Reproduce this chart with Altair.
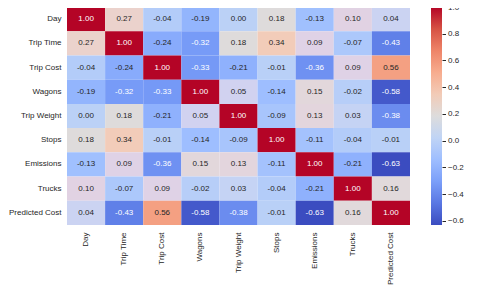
import altair as alt
import pandas as pd

variables = ["Day", "Trip Time", "Trip Cost", "Wagons", "Trip Weight",
             "Stops", "Emissions", "Trucks", "Predicted Cost"]

row_day            = [1.00, 0.27, -0.04, -0.19, 0.00, 0.18, -0.13, 0.10, 0.04]
row_trip_time      = [0.27, 1.00, -0.24, -0.32, 0.18, 0.34, 0.09, -0.07, -0.43]
row_trip_cost      = [-0.04, -0.24, 1.00, -0.33, -0.21, -0.01, -0.36, 0.09, 0.56]
row_wagons         = [-0.19, -0.32, -0.33, 1.00, 0.05, -0.14, 0.15, -0.02, -0.58]
row_trip_weight    = [0.00, 0.18, -0.21, 0.05, 1.00, -0.09, 0.13, 0.03, -0.38]
row_stops          = [0.18, 0.34, -0.01, -0.14, -0.09, 1.00, -0.11, -0.04, -0.01]
row_emissions      = [-0.13, 0.09, -0.36, 0.15, 0.13, -0.11, 1.00, -0.21, -0.63]
row_trucks         = [0.10, -0.07, 0.09, -0.02, 0.03, -0.04, -0.21, 1.00, 0.16]
row_predicted_cost = [0.04, -0.43, 0.56, -0.58, -0.38, -0.01, -0.63, 0.16, 1.00]

rows = [row_day, row_trip_time, row_trip_cost, row_wagons, row_trip_weight,
        row_stops, row_emissions, row_trucks, row_predicted_cost]

colorbar_ticks = [-0.6, -0.4, -0.2, 0.0, 0.2, 0.4, 0.6, 0.8, 1.0]
vmin, vmax = -0.63, 1.0

coolwarm = ["#3b4cc0", "#5977e3", "#7b9ff9", "#9ebeff", "#c0d4f5", "#dddcdc",
            "#f2cbb7", "#f7ac8e", "#ee8468", "#d65244", "#b40426"]

records = []
for rname, vals in zip(variables, rows):
    for cname, v in zip(variables, vals):
        records.append({"row": rname, "col": cname, "value": v, "label": f"{v:.2f}"})
df = pd.DataFrame(records)

n = len(coolwarm)
color_domain = [vmin + i * (vmax - vmin) / (n - 1) for i in range(n)]

FONT = "Liberation Sans"
TXT = "#262626"

base = alt.Chart(df).encode(
    x=alt.X("col:N", sort=variables, title=None,
            scale=alt.Scale(paddingInner=0, paddingOuter=0),
            axis=alt.Axis(labelAngle=270, domain=False, ticks=False, labelPadding=7,
                          labelFontSize=8, labelFont=FONT, labelColor=TXT)),
    y=alt.Y("row:N", sort=variables, title=None,
            scale=alt.Scale(paddingInner=0, paddingOuter=0),
            axis=alt.Axis(domain=False, ticks=False, labelPadding=6,
                          labelFontSize=8, labelFont=FONT, labelColor=TXT)),
)

rect = base.mark_rect(strokeWidth=0).encode(
    color=alt.Color("value:Q", scale=alt.Scale(domain=color_domain, range=coolwarm),
                    legend=None)
)

text = base.mark_text(fontSize=8, font=FONT).encode(
    text="label:N",
    color=alt.condition("datum.value < -0.3 || datum.value > 0.9",
                        alt.value("white"), alt.value(TXT)),
)

heat = alt.layer(rect, text).properties(width=343, height=218)

cb_df = pd.DataFrame({"lo": [vmin], "hi": [vmax]})
stops = [alt.GradientStop(color=c, offset=i / (n - 1)) for i, c in enumerate(coolwarm)]
colorbar = alt.Chart(cb_df).mark_rect(
    fill=alt.Gradient(gradient="linear", stops=stops, x1=0, x2=0, y1=1, y2=0),
    strokeWidth=0,
).encode(
    y=alt.Y("lo:Q", title=None,
            scale=alt.Scale(domain=[vmin, vmax], nice=False, zero=False),
            axis=alt.Axis(orient="right", values=colorbar_ticks, format=".1f",
                          domain=False, grid=False, tickSize=3.5, tickColor=TXT,
                          labelPadding=2, labelFontSize=8, labelFont=FONT,
                          labelColor=TXT)),
    y2="hi:Q",
    x=alt.value(0),
    x2=alt.value(11),
).properties(width=11, height=218)

chart = alt.hconcat(heat, colorbar, spacing=21, bounds="flush").properties(
    padding={"left": 0, "top": -5, "right": 0, "bottom": 0}
).configure_view(stroke=None)

chart.save("out.html", embed_options={"renderer": "svg", "actions": False})
